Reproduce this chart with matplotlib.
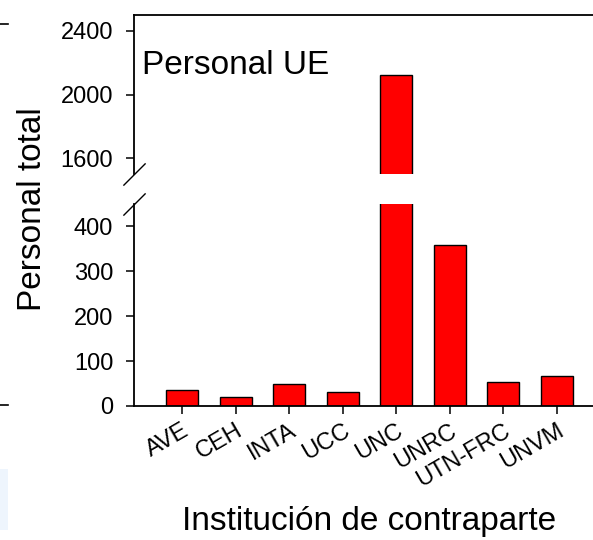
import matplotlib
matplotlib.use("Agg")
import matplotlib.pyplot as plt
import numpy as np

plt.rcParams["font.family"] = ["Liberation Sans", "DejaVu Sans"]

institutions = ["AVE", "CEH", "INTA", "UCC", "UNC", "UNRC", "UTN-FRC", "UNVM"]
personal = [35, 20, 48, 31, 2124, 358, 53, 66]

low_ticks = [0, 100, 200, 300, 400]
high_ticks = [1600, 2000, 2400]
low_lim = (0, 450)
high_lim = (1500, 2500)


def main():
    fig = plt.figure(figsize=(5.93, 5.40), dpi=100)
    left = 134 / 593
    ax_hi = fig.add_axes([left, 1 - 174 / 540, 1 - left, (174 - 15) / 540])
    ax_lo = fig.add_axes([left, 1 - 406 / 540, 1 - left, (406 - 204) / 540])

    x = np.arange(len(institutions))
    for ax in (ax_hi, ax_lo):
        ax.bar(x, personal, width=0.6, color="#ff0000", edgecolor="black",
               linewidth=1.0)
        ax.set_xlim(-0.9, 7.68)
        ax.spines["right"].set_visible(False)
        for s in ("left", "bottom", "top"):
            ax.spines[s].set_linewidth(1.3)
        ax.tick_params(axis="both", direction="out", length=6, width=1.1,
                       labelsize=17)
        ax.tick_params(axis="y", pad=9)

    ax_hi.set_ylim(*high_lim)
    ax_hi.set_yticks(high_ticks)
    ax_hi.spines["bottom"].set_visible(False)
    ax_hi.tick_params(axis="x", bottom=False, labelbottom=False)
    ax_hi.text(0.018, 0.63, "Personal UE", transform=ax_hi.transAxes,
               fontsize=24, ha="left", va="baseline")

    ax_lo.set_ylim(*low_lim)
    ax_lo.set_yticks(low_ticks)
    ax_lo.spines["top"].set_visible(False)
    ax_lo.set_xticks(x)
    ax_lo.set_xticklabels(institutions, rotation=30, ha="right", va="top",
                          rotation_mode="anchor")
    ax_lo.tick_params(axis="x", pad=4)

    # break marks on the left spine
    kw = dict(marker=[(-1, -1), (1, 1)], markersize=16, linestyle="none",
              color="k", mec="k", mew=1, clip_on=False)
    ax_lo.plot([0], [1], transform=ax_lo.transAxes, **kw)
    ax_hi.plot([0], [0], transform=ax_hi.transAxes, **kw)

    fig.text(369.5 / 593, 1 - 530 / 540, "Institución de contraparte",
             fontsize=24, ha="center", va="baseline")
    fig.text(41 / 593, 1 - 209 / 540, "Personal total", fontsize=24,
             rotation=90, ha="center", va="baseline", rotation_mode="anchor")

    # fragments of the neighbouring figure at the left edge
    fig.add_artist(plt.Line2D([0, 8 / 593], [1 - 24 / 540] * 2, color="k",
                              lw=1.2))
    fig.add_artist(plt.Line2D([0, 8 / 593], [1 - 405 / 540] * 2, color="k",
                              lw=1.2))
    fig.add_artist(plt.Rectangle((0, 1 - 530 / 540), 8 / 593, 61 / 540,
                                 color="#eef5fd", lw=0))

    fig.savefig("out.png", dpi=100)


if __name__ == "__main__":
    main()
